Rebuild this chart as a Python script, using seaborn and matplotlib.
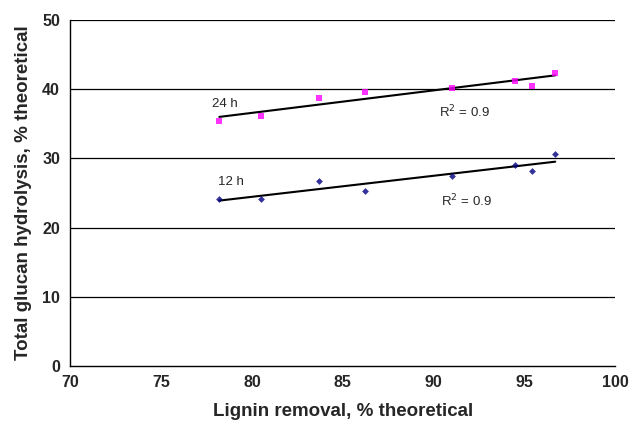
import matplotlib
matplotlib.use("Agg")
import numpy as np
import pandas as pd
import matplotlib.pyplot as plt
import seaborn as sns

# data
lignin_removal = [78.2, 80.5, 83.7, 86.2, 91.0, 94.5, 95.4, 96.7]
hydrolysis_24h = [35.4, 36.1, 38.7, 39.6, 40.2, 41.2, 40.5, 42.4]
hydrolysis_12h = [24.2, 24.2, 26.7, 25.3, 27.4, 29.1, 28.2, 30.6]

df = pd.DataFrame({"lignin": lignin_removal, "h24": hydrolysis_24h, "h12": hydrolysis_12h})

sns.set_style("white")
plt.rcParams["font.family"] = ["Liberation Sans", "DejaVu Sans"]

fig = plt.figure(figsize=(6.29, 4.21), dpi=100)
ax = fig.add_axes([0.112, 0.1306, 0.866, 0.822])

# horizontal grid lines
for yv in [10, 20, 30, 40, 50]:
    ax.axhline(yv, color="black", lw=0.9, zorder=1)

sns.regplot(data=df, x="lignin", y="h24", ax=ax, ci=None, truncate=True,
            marker="s", scatter_kws={"color": "#FF00FF", "s": 18, "linewidths": 0, "zorder": 3},
            line_kws={"color": "black", "lw": 1.5, "zorder": 2})
sns.regplot(data=df, x="lignin", y="h12", ax=ax, ci=None, truncate=True,
            marker="D", scatter_kws={"color": "#000080", "s": 12, "linewidths": 0, "zorder": 3},
            line_kws={"color": "black", "lw": 1.5, "zorder": 2})

ax.text(77.8, 37.4, "24 h", fontsize=9.5)
ax.text(90.3, 36.0, "R$^2$ = 0.9", fontsize=9.5)
ax.text(78.1, 26.2, "12 h", fontsize=9.5)
ax.text(90.4, 23.1, "R$^2$ = 0.9", fontsize=9.5)

ax.set_xlim(70, 100)
ax.set_ylim(0, 50)
ax.set_xticks([70, 75, 80, 85, 90, 95, 100])
ax.set_yticks([0, 10, 20, 30, 40, 50])
ax.tick_params(axis="both", direction="out", length=4, width=0.9, labelsize=11.5, color="black")
ax.tick_params(axis="x", direction="inout", length=6)
for lab in ax.get_xticklabels() + ax.get_yticklabels():
    lab.set_fontweight("bold")

ax.set_xlabel("Lignin removal, % theoretical", fontsize=13.5, fontweight="bold", labelpad=9)
ax.set_ylabel("Total glucan hydrolysis, % theoretical", fontsize=13.5, fontweight="bold", labelpad=7)

for side in ["top", "right"]:
    ax.spines[side].set_visible(False)
for side in ["left", "bottom"]:
    ax.spines[side].set_color("black")
    ax.spines[side].set_linewidth(1.0)

fig.savefig("out.png", dpi=100)
